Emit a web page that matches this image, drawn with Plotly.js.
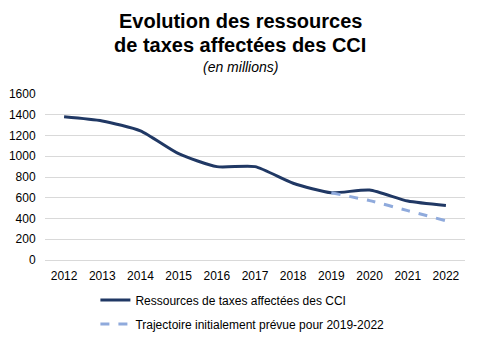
<!DOCTYPE html>
<html>
<head>
<meta charset="utf-8">
<script src="https://cdn.plot.ly/plotly-3.0.1.min.js"></script>
<style>html,body{margin:0;padding:0;background:#fff;}#chart{width:479px;height:338px;}</style>
</head>
<body>
<div id="chart"></div>
<script>
const years = ['2012','2013','2014','2015','2016','2017','2018','2019','2020','2021','2022'];
const ressources = [1380, 1340, 1245, 1025, 900, 900, 740, 648, 675, 568, 525];
const trajYears = ['2019','2020','2021','2022'];
const trajectoire = [648, 572, 476, 378];
const yTicks = [0, 200, 400, 600, 800, 1000, 1200, 1400, 1600];

const traces = [
  {x: years, y: ressources, type: 'scatter', mode: 'lines', name: 'Ressources de taxes affectées des CCI',
   legendgroup: 'a', line: {color: '#203864', width: 3, shape: 'spline', smoothing: 0.6}},
  {x: trajYears, y: trajectoire, type: 'scatter', mode: 'lines', name: 'Trajectoire initialement prévue pour 2019-2022',
   legendgroup: 'b', line: {color: '#8FAADC', width: 3, dash: 'dash', shape: 'spline', smoothing: 0.6}}
];

const layout = {
  width: 479, height: 338,
  margin: {l: 45, r: 14, t: 94, b: 78, autoexpand: false},
  paper_bgcolor: '#fff', plot_bgcolor: '#fff',
  font: {family: 'Liberation Sans, Arial, sans-serif', size: 12, color: '#000'},
  annotations: [
    {text: '<b>Evolution des ressources</b>', xref: 'paper', yref: 'paper', x: 0.465, y: 1.44, xanchor: 'center', yanchor: 'middle',
     showarrow: false, font: {size: 20, color: '#000'}},
    {text: '<b>de taxes affectées des CCI</b>', xref: 'paper', yref: 'paper', x: 0.465, y: 1.295, xanchor: 'center', yanchor: 'middle',
     showarrow: false, font: {size: 20, color: '#000'}},
    {text: '<i>(en millions)</i>', xref: 'paper', yref: 'paper', x: 0.465, y: 1.16, xanchor: 'center', yanchor: 'middle',
     showarrow: false, font: {size: 14, color: '#000'}}
  ],
  xaxis: {type: 'category', range: [-0.5, 10.5], tickvals: years, ticktext: years, showgrid: false, zeroline: false, automargin: false,
          showline: false, ticks: 'outside', ticklen: 5, tickcolor: 'rgba(0,0,0,0)', tickfont: {size: 12}},
  yaxis: {range: [0, 1600], tickvals: yTicks, showgrid: true, gridcolor: '#d9d9d9', gridwidth: 1, automargin: false,
          zeroline: true, zerolinecolor: '#d9d9d9', showline: false, ticks: 'outside', ticklen: 6, tickcolor: 'rgba(0,0,0,0)', tickfont: {size: 12}},
  showlegend: true,
  legend: {orientation: 'v', x: 0.12, xanchor: 'left', yref: 'container', y: 0.155, yanchor: 'top', font: {size: 12},
           traceorder: 'grouped', tracegroupgap: 5, bgcolor: 'rgba(0,0,0,0)'}
};

Plotly.newPlot('chart', traces, layout, {displayModeBar: false, staticPlot: true});
</script>
</body>
</html>
